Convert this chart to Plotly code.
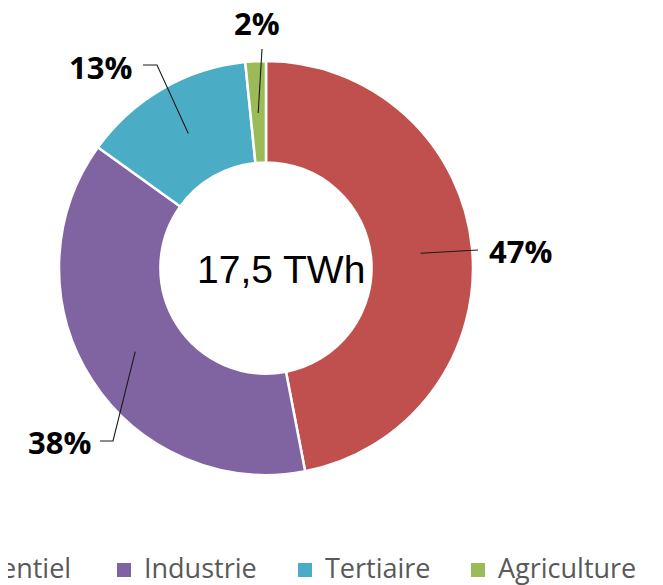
import math
import plotly.graph_objects as go

# ---------------- data ----------------
categories = ["Résidentiel", "Industrie", "Tertiaire", "Agriculture"]
values_twh = [8.22, 6.64, 2.36, 0.28]
colors = ["#C0504D", "#8064A2", "#4BACC6", "#9BBB59"]
unit = "TWh"

# ---------------- layout constants (pixels, in window coordinates) ----------------
WIN_W, WIN_H = 663, 585
OFF = 8                      # default page body margin
W, H = WIN_W - OFF, WIN_H - OFF
CX, CY, R = 266, 268, 207
HOLE = 0.51
ANCHOR_FRAC = 0.75

# label placement: text position, anchor, leader-line elbow points
label_layout = [
    dict(text_xy=(487, 251), xanchor="left", path=[(478, 250)]),
    dict(text_xy=(93, 442), xanchor="right", path=[(113, 441), (100, 441)]),
    dict(text_xy=(134, 67), xanchor="right", path=[(157, 65), (143, 65)]),
    dict(text_xy=(257, 23), xanchor="center", path=[(262, 49)]),
]
legend_swatch_left = [-94, 117, 298, 471]
legend_y = 567
swatch = 14


def px(x, y):
    return (x - OFF) / W, 1 - (y - OFF) / H


total = sum(values_twh)
center_text = f"{total:.1f}".replace(".", ",") + " " + unit

dx0, dy1 = px(CX - R, CY + R)
dx1, dy0 = px(CX + R, CY - R)

fig = go.Figure(
    go.Pie(
        labels=categories,
        values=values_twh,
        hole=HOLE,
        sort=False,
        direction="clockwise",
        rotation=0,
        marker=dict(colors=colors, line=dict(color="white", width=2.5)),
        textinfo="none",
        hoverinfo="label+percent",
        showlegend=False,
        domain=dict(x=[dx0, dx1], y=[dy1, dy0]),
    )
)

shapes = []
annotations = []

# percentage labels + leader lines
cum = 0.0
for v, lay in zip(values_twh, label_layout):
    frac = v / total
    mid = (cum + frac / 2) * 2 * math.pi
    cum += frac
    ax = CX + ANCHOR_FRAC * R * math.sin(mid)
    ay = CY - ANCHOR_FRAC * R * math.cos(mid)
    pts = [(ax, ay)] + lay["path"]
    d = ""
    for i, (x, y) in enumerate(pts):
        X, Y = px(x, y)
        d += ("M" if i == 0 else " L") + f" {X:.5f},{Y:.5f}"
    shapes.append(dict(type="path", path=d, xref="paper", yref="paper",
                       line=dict(color="#1a1a1a", width=1.1)))
    tx, ty = px(*lay["text_xy"])
    annotations.append(dict(
        x=tx, y=ty, xref="paper", yref="paper", showarrow=False,
        xanchor=lay["xanchor"], yanchor="middle",
        text=f"<b>{round(frac * 100)}%</b>",
        font=dict(family="Open Sans", size=31, color="#000000"),
    ))

# center text
cx_t, cy_t = px(281, 269)
annotations.append(dict(
    x=cx_t, y=cy_t, xref="paper", yref="paper", showarrow=False,
    xanchor="center", yanchor="middle", text=center_text,
    font=dict(family="Liberation Sans, Arial", size=39, color="#000000"),
))

# legend (bottom row)
for name, col, sl in zip(categories, colors, legend_swatch_left):
    x0, y0 = px(sl, legend_y - swatch / 2 + 3)
    x1, y1 = px(sl + swatch, legend_y + swatch / 2 + 3)
    shapes.append(dict(type="rect", xref="paper", yref="paper",
                       x0=x0, x1=x1, y0=y0, y1=y1,
                       fillcolor=col, line=dict(width=0)))
    lx, ly = px(sl + 25, legend_y)
    annotations.append(dict(
        x=lx, y=ly, xref="paper", yref="paper", showarrow=False,
        xanchor="left", yanchor="middle", text=name,
        font=dict(family="Open Sans", size=27, color="#595959"),
    ))

fig.update_layout(
    width=W, height=H,
    margin=dict(l=0, r=0, t=0, b=0, autoexpand=False),
    paper_bgcolor="white", plot_bgcolor="white",
    shapes=shapes, annotations=annotations,
    showlegend=False,
)

fig.write_html("out.html")
